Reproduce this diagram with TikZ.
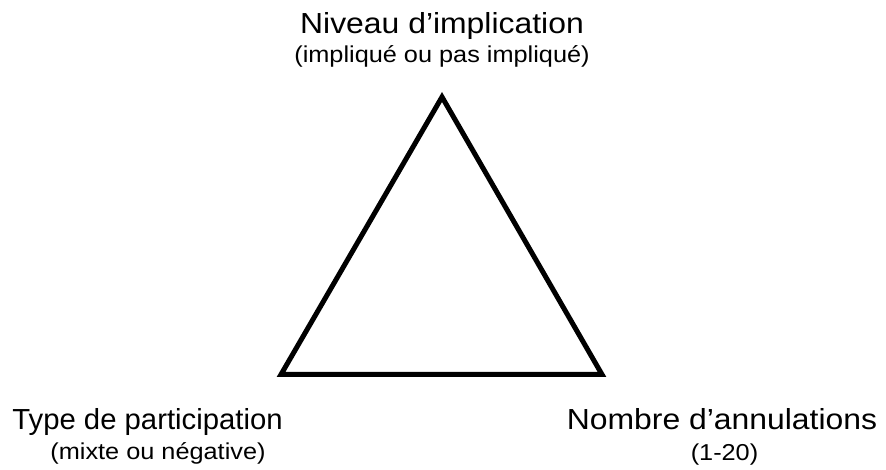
\documentclass[tikz,border=0pt]{standalone}
\usepackage{fontspec}
\setmainfont[FakeStretch=1.1]{Liberation Sans}
\newfontfamily\tightfont[FakeStretch=1.01]{Liberation Sans}
\usepackage{tikz}
\usetikzlibrary{positioning}
\tikzset{
  cornertitle/.style={anchor=base, inner sep=0pt, font=\fontsize{29}{34}\selectfont},
  cornernote/.style={anchor=base, inner sep=0pt, font=\fontsize{23}{28}\selectfont},
  triside/.style={line width=5pt, line join=miter}
}

\begin{document}
\begin{tikzpicture}[x=1pt, y=1pt]
  \useasboundingbox (0,0) rectangle (886,470);

  % corners of the triangle
  \coordinate (top) at (442,373);
  \coordinate (left) at (281,95.5);
  \coordinate (right) at (602,95.5);

  % labels at the corners
  \node[cornertitle] (topname) at (442,436) {Niveau d’implication};
  \node[cornernote] (topnote) at (442,407) {(impliqué ou pas impliqué)};
  \node[cornertitle, font=\fontsize{29}{34}\tightfont] (leftname) at (147.5,40) {Type de participation};
  \node[cornernote] (leftnote) at (158,10) {(mixte ou négative)};
  \node[cornertitle] (rightname) at (722,40) {Nombre d’annulations};
  \node[cornernote] (rightnote) at (724.5,9) {(1-20)};

  % the triangle
  \draw[triside] (top) -- (left) -- (right) -- cycle;

\end{tikzpicture}
\end{document}
